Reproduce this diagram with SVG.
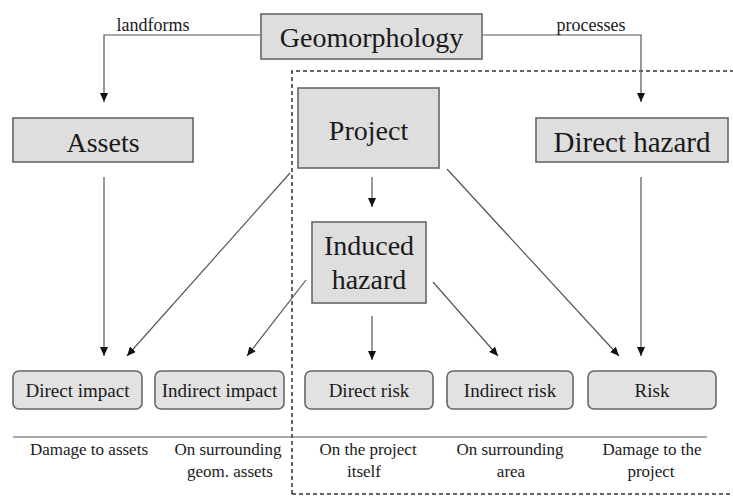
<svg xmlns="http://www.w3.org/2000/svg" width="733" height="496" viewBox="0 0 733 496" font-family="'Liberation Serif', 'DejaVu Serif', 'Times New Roman', serif">
<defs>
<marker id="ah" markerUnits="userSpaceOnUse" markerWidth="9" markerHeight="8" refX="9" refY="4" orient="auto">
<path d="M0,0 L9,4 L0,8 z" fill="#111"/>
</marker>
<style>
text{font-family:'Liberation Serif','DejaVu Serif','Times New Roman',serif;fill:#1a1a1a;text-anchor:middle}
.box{fill:#dedede;stroke:#666;stroke-width:1.6}
.rbox{fill:#e2e2e2;stroke:#666;stroke-width:1.6}
.big{font-size:28px}
.mid{font-size:19px}
.sm{font-size:17px}
.lbl{font-size:18px}
.c{fill:none;stroke:#555;stroke-width:1.2}
.ca{fill:none;stroke:#555;stroke-width:1.2;marker-end:url(#ah)}
.dash{fill:none;stroke:#333;stroke-width:1.5;stroke-dasharray:4 3}
</style>
</defs>
<rect width="733" height="496" fill="#fff"/>
<g id="boundary">
<path class="dash" d="M292,494 L292,71 L733,71 M292,494 L733,494"/>
</g>
<g id="connectors">
<path class="ca" d="M260,35 L104,35 L104,102"/>
<path class="ca" d="M483,35 L641,35 L641,102"/>
<path class="ca" d="M104,177 L104,356"/>
<path class="ca" d="M641,177 L641,356"/>
<path class="ca" d="M290,173 L127,356"/>
<path class="ca" d="M447,169 L619,356"/>
<path class="ca" d="M372,177 L372,207"/>
<path class="ca" d="M306,280 L247,356"/>
<path class="ca" d="M433,282 L498,356"/>
<path class="ca" d="M372,316 L372,360"/>
<path class="c" d="M13,437 L707,437" stroke-width="1.6"/>
<text class="lbl" x="153" y="31">landforms</text>
<text class="lbl" x="591" y="31">processes</text>
</g>
<g id="geomorphology">
<rect class="box" x="261" y="14" width="221" height="45"/>
<text class="big" x="371.5" y="47">Geomorphology</text>
</g>
<g id="assets">
<rect class="box" x="13" y="118" width="180" height="44"/>
<text class="big" x="103" y="152">Assets</text>
</g>
<g id="project">
<rect class="box" x="298" y="88" width="141" height="80"/>
<text class="big" x="368.5" y="140">Project</text>
</g>
<g id="direct-hazard">
<rect class="box" x="536" y="118" width="192" height="44"/>
<text class="big" x="632" y="152" style="font-size:29px">Direct hazard</text>
</g>
<g id="induced-hazard">
<rect class="box" x="312" y="222" width="114" height="81"/>
<text class="big" x="369" y="255">Induced</text>
<text class="big" x="369" y="289">hazard</text>
</g>
<g id="direct-impact">
<rect class="rbox" x="13" y="371" width="129" height="38" rx="6"/>
<text class="mid" x="77.5" y="397">Direct impact</text>
</g>
<g id="indirect-impact">
<rect class="rbox" x="155" y="371" width="129" height="38" rx="6"/>
<text class="mid" x="219.5" y="397">Indirect impact</text>
</g>
<g id="direct-risk">
<rect class="rbox" x="305" y="371" width="128" height="38" rx="6"/>
<text class="mid" x="369" y="397">Direct risk</text>
</g>
<g id="indirect-risk">
<rect class="rbox" x="447" y="371" width="126" height="38" rx="6"/>
<text class="mid" x="510" y="397">Indirect risk</text>
</g>
<g id="risk">
<rect class="rbox" x="588" y="371" width="128" height="38" rx="6"/>
<text class="mid" x="652" y="397">Risk</text>
</g>
<g id="bottom-labels">
<text class="sm" x="89" y="455">Damage to assets</text>
<text class="sm" x="228" y="455">On surrounding</text>
<text class="sm" x="230" y="477">geom. assets</text>
<text class="sm" x="368" y="455">On the project</text>
<text class="sm" x="364" y="477">itself</text>
<text class="sm" x="510" y="455">On surrounding</text>
<text class="sm" x="511" y="477">area</text>
<text class="sm" x="652" y="455">Damage to the</text>
<text class="sm" x="651" y="477">project</text>
</g>
</svg>
